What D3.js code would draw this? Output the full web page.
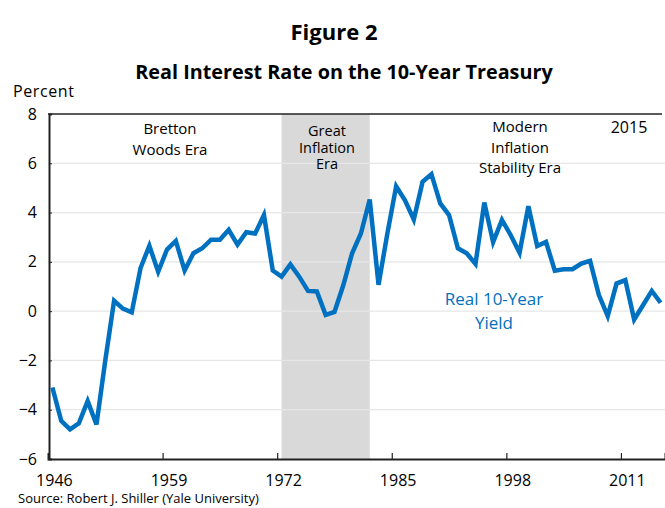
<!DOCTYPE html>
<html>
<head>
<meta charset="utf-8">
<script src="https://cdn.jsdelivr.net/npm/d3@7"></script>
<style>
    body { margin: 0; background: #fff; }
    svg text { font-family: "Open Sans", Lato, sans-serif; }
</style>
</head>
<body>
<svg id="chart" width="665" height="508"></svg>
<script>
// Real 10-year yield, percent, 1946-2015
const years = d3.range(1946, 2016);
const realYield = [
    -3.1, -4.45, -4.8, -4.55, -3.65, -4.6, -2.0, 0.42, 0.1, -0.05,
    1.75, 2.65, 1.6, 2.5, 2.85, 1.65, 2.35, 2.55, 2.9, 2.9,
    3.3, 2.7, 3.2, 3.15, 3.9, 1.65, 1.4, 1.9, 1.4, 0.82,
    0.8, -0.15, -0.03, 1.05, 2.35, 3.15, 4.53, 1.07, 3.15, 5.07,
    4.5, 3.72, 5.25, 5.56, 4.37, 3.9, 2.55, 2.35, 1.92, 4.41,
    2.8, 3.7, 3.08, 2.37, 4.26, 2.64, 2.81, 1.64, 1.7, 1.7,
    1.93, 2.04, 0.65, -0.2, 1.12, 1.26, -0.34, 0.24, 0.82, 0.34
];
const yTicks = [-6, -4, -2, 0, 2, 4, 6, 8];
const xLabels = [1946, 1959, 1972, 1985, 1998, 2011];
const greatInflation = [1972, 1982];

const svg = d3.select('#chart');
const plot = {left: 48, right: 665, top: 114, bottom: 459};

const x = d3.scaleLinear().domain([1945.5, 2015.5]).range([plot.left, plot.right]);
const y = d3.scaleLinear().domain([-6, 8]).range([plot.bottom, plot.top]);

// Titles
svg.append('text').attr('x', 334).attr('y', 40)
    .attr('text-anchor', 'middle').style('font-size', '22px').style('font-weight', 'bold')
    .text('Figure 2');
svg.append('text').attr('x', 344).attr('y', 79)
    .attr('text-anchor', 'middle').style('font-size', '19.8px').style('font-weight', 'bold')
    .text('Real Interest Rate on the 10-Year Treasury');
svg.append('text').attr('x', 13).attr('y', 97)
    .style('font-size', '16px').style('letter-spacing', '0.6px').text('Percent');

// Shaded era
svg.append('rect')
    .attr('x', x(greatInflation[0]))
    .attr('y', plot.top)
    .attr('width', x(greatInflation[1]) - x(greatInflation[0]))
    .attr('height', plot.bottom - plot.top)
    .attr('fill', '#d9d9d9');

// Gridlines
svg.append('g').selectAll('line')
    .data(yTicks.filter(d => d > -6 && d < 8))
    .enter().append('line')
    .attr('x1', plot.left).attr('x2', plot.right)
    .attr('y1', d => y(d)).attr('y2', d => y(d))
    .attr('stroke', '#e6e6e6').attr('stroke-width', 1.2);

// Y axis
const yAxis = svg.append('g')
    .attr('transform', `translate(${plot.left + 1},0)`)
    .call(d3.axisLeft(y).tickValues(yTicks).tickSize(-3).tickPadding(12).tickFormat(d3.format('d')));
yAxis.select('.domain').attr('stroke', '#222').attr('stroke-width', 2);
yAxis.selectAll('.tick line').attr('stroke', '#222');
yAxis.selectAll('text').style('font-size', '16px').attr('fill', '#000')
    .style('font-family', '"Open Sans", sans-serif');

// X axis: ticks at category boundaries, labels on categories
const xAxis = svg.append('g')
    .attr('transform', `translate(0,${plot.bottom})`)
    .call(d3.axisBottom(x).tickValues(xLabels.slice(1).map(d => d - 0.5)).tickSize(-6).tickFormat(''));
xAxis.select('.domain').attr('stroke', '#222').attr('stroke-width', 2);
xAxis.selectAll('.tick line').attr('stroke', '#222').attr('stroke-width', 1.2);

svg.append('g').selectAll('text')
    .data(xLabels)
    .enter().append('text')
    .attr('x', d => x(d) + 2)
    .attr('y', 486)
    .attr('text-anchor', 'middle')
    .style('font-size', '16px')
    .text(d => d);

// Top border
svg.append('line')
    .attr('x1', plot.left).attr('x2', 662)
    .attr('y1', plot.top).attr('y2', plot.top)
    .attr('stroke', '#222').attr('stroke-width', 1.5);

// Series line
svg.append('path')
    .datum(years.map((yr, i) => [yr, realYield[i]]))
    .attr('fill', 'none')
    .attr('stroke', '#0070c0')
    .attr('stroke-width', 4.5)
    .attr('stroke-linejoin', 'miter')
    .attr('d', d3.line().x(d => x(d[0])).y(d => y(d[1])));

// Annotations
function note(lines, cx, y0, dy, size, color) {
    const t = svg.append('text')
        .attr('text-anchor', 'middle')
        .style('font-size', size + 'px')
        .attr('fill', color || '#000');
    lines.forEach((s, i) => {
        t.append('tspan').attr('x', cx).attr('y', y0 + i * dy).text(s);
    });
}
note(['Bretton', 'Woods Era'], 170, 134, 21, 15);
note(['Great', 'Inflation', 'Era'], 327, 136, 16.5, 14.5);
note(['Modern', 'Inflation', 'Stability Era'], 520, 132, 20.5, 15);
note(['2015'], 629, 133, 0, 16);
note(['Real 10-Year', 'Yield'], 494, 305, 24, 17, '#0070c0');

// Source
svg.append('text').attr('x', 18).attr('y', 503)
    .style('font-size', '13px')
    .text('Source:  Robert J. Shiller  (Yale University)');
</script>
</body>
</html>
